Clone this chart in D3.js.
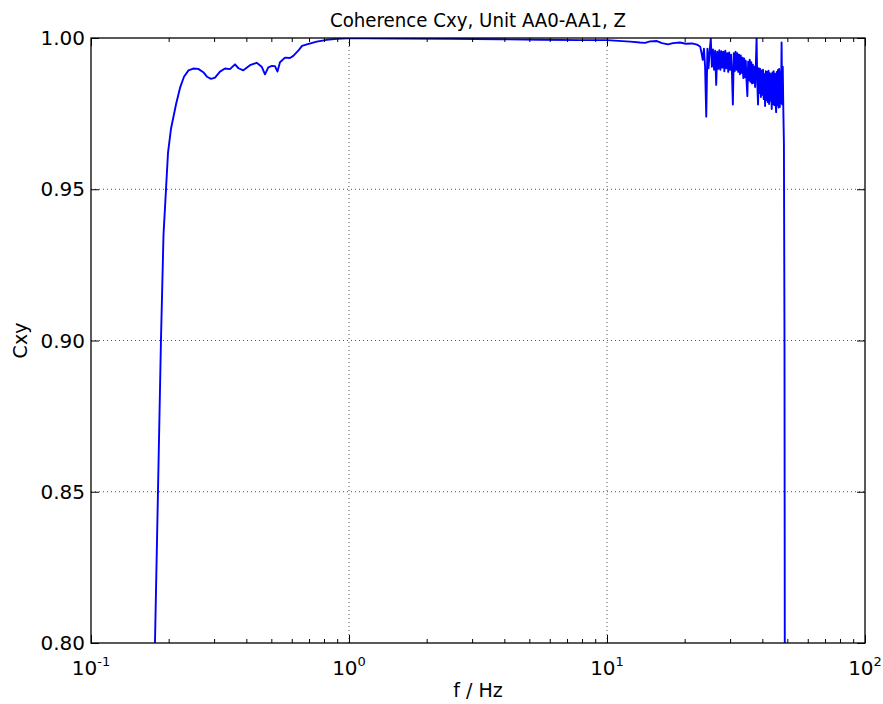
<!DOCTYPE html>
<html>
<head>
<meta charset="utf-8">
<script src="https://cdn.jsdelivr.net/npm/d3@7"></script>
<style>
  html, body { margin: 0; padding: 0; background: #fff; }
  svg { display: block; font-family: "DejaVu Sans", sans-serif; }
</style>
</head>
<body>
<svg id="chart" width="883" height="704"></svg>
<script>
// Coherence between units AA0 and AA1 (Z component), frequency in Hz.
// Low band: smooth part of the spectrum up to ~23 Hz.
const lowFreq = [0.1754, 0.1770, 0.1818, 0.1867, 0.1910, 0.1953, 0.1988, 0.2042, 0.2135, 0.2213,
  0.2293, 0.2387, 0.2491, 0.2605, 0.2724, 0.2815, 0.2919, 0.3025, 0.3162, 0.3306,
  0.3457, 0.3615, 0.3730, 0.3894, 0.4134, 0.4387, 0.4587, 0.4725, 0.4866, 0.5028,
  0.5165, 0.5282, 0.5401, 0.5648, 0.5906, 0.6082, 0.6360, 0.6573, 0.6874, 0.7493,
  0.8197, 0.8961, 0.9822, 1.153, 1.577, 2.464, 3.849, 5.500, 7.860, 10.0,
  12.28, 13.42, 14.04, 14.68, 15.62, 16.34, 17.24, 18.03, 19.18, 20.24,
  21.35, 22.33, 22.94];
const lowCxy = [0.770, 0.800, 0.850, 0.900, 0.935, 0.950, 0.962, 0.970, 0.978, 0.9835,
  0.9872, 0.9893, 0.9899, 0.9898, 0.9887, 0.9872, 0.9865, 0.9869, 0.9889, 0.9899,
  0.9897, 0.9913, 0.9900, 0.9893, 0.9910, 0.9918, 0.9905, 0.9880, 0.9903, 0.9908,
  0.9907, 0.9889, 0.9920, 0.9935, 0.9934, 0.9941, 0.9958, 0.9974, 0.9979, 0.9988,
  0.9994, 0.9997, 0.9999, 0.9999, 0.9998, 0.9997, 0.9996, 0.9994, 0.9993, 0.9993,
  0.9988, 0.9985, 0.9984, 0.9989, 0.9990, 0.9983, 0.9979, 0.9983, 0.9985, 0.9981,
  0.9982, 0.9978, 0.9972];

// High band: noisy part, 0.25 Hz bins from 23 Hz up to the cut-off near 49 Hz.
const highFreq = [23.00, 23.25, 23.50, 23.75, 24.00, 24.25, 24.50, 24.75, 25.00, 25.25,
  25.50, 25.75, 26.00, 26.25, 26.50, 26.75, 27.00, 27.25, 27.50, 27.75,
  28.00, 28.25, 28.50, 28.75, 29.00, 29.25, 29.50, 29.75, 30.00, 30.25,
  30.50, 30.75, 31.00, 31.25, 31.50, 31.75, 32.00, 32.25, 32.50, 32.75,
  33.00, 33.25, 33.50, 33.75, 34.00, 34.25, 34.50, 34.75, 35.00, 35.25,
  35.50, 35.75, 36.00, 36.25, 36.50, 36.75, 37.00, 37.25, 37.50, 37.75,
  38.00, 38.25, 38.50, 38.75, 39.00, 39.25, 39.50, 39.75, 40.00, 40.25,
  40.50, 40.75, 41.00, 41.25, 41.50, 41.75, 42.00, 42.25, 42.50, 42.75,
  43.00, 43.25, 43.50, 43.75, 44.00, 44.25, 44.50, 44.75, 45.00, 45.25,
  45.50, 45.75, 46.00, 46.25, 46.50, 46.75, 47.00, 47.25, 47.50, 47.75,
  48.00, 48.25, 48.50, 48.75, 49.00];
const highCxy = [0.9970, 0.9950, 0.9928, 0.9965, 0.9905, 0.9740, 0.9965, 0.9900, 0.9958, 0.9998,
  0.9905, 0.9962, 0.9895, 0.9958, 0.9845, 0.9955, 0.9898, 0.9960, 0.9895, 0.9956,
  0.9902, 0.9955, 0.9890, 0.9958, 0.9900, 0.9950, 0.9888, 0.9952, 0.9895, 0.9945,
  0.9885, 0.9780, 0.9950, 0.9890, 0.9955, 0.9895, 0.9950, 0.9888, 0.9945, 0.9880,
  0.9942, 0.9885, 0.9935, 0.9868, 0.9932, 0.9870, 0.9925, 0.9858, 0.9808, 0.9922,
  0.9860, 0.9928, 0.9855, 0.9920, 0.9850, 0.9912, 0.9852, 0.9905, 0.9838, 0.9910,
  0.9999, 0.9848, 0.9780, 0.9900, 0.9818, 0.9898, 0.9805, 0.9892, 0.9812, 0.9895,
  0.9798, 0.9880, 0.9775, 0.9890, 0.9795, 0.9888, 0.9788, 0.9892, 0.9782, 0.9884,
  0.9792, 0.9880, 0.9765, 0.9886, 0.9782, 0.9890, 0.9778, 0.9882, 0.9788, 0.9755,
  0.9888, 0.9778, 0.9894, 0.9770, 0.9898, 0.9772, 0.9888, 0.9785, 0.9985, 0.9780,
  0.9905, 0.9760, 0.9650, 0.9000, 0.7000];

const xMajorTicks = [0.1, 1, 10, 100];
const xTickExponents = ["-1", "0", "1", "2"];
const xMinorTicks = [0.2, 0.3, 0.4, 0.5, 0.6, 0.7, 0.8, 0.9, 2, 3, 4, 5, 6, 7, 8, 9,
  20, 30, 40, 50, 60, 70, 80, 90];
const yTicks = [0.80, 0.85, 0.90, 0.95, 1.00];

const titleText = "Coherence Cxy, Unit AA0-AA1, Z";
const xLabelText = "f / Hz";
const yLabelText = "Cxy";

const margin = { left: 91, right: 18, top: 38, bottom: 61 };
const W = 883, H = 704;
const iw = W - margin.left - margin.right;
const ih = H - margin.top - margin.bottom;

const svg = d3.select("#chart");
const g = svg.append("g").attr("transform", `translate(${margin.left},${margin.top})`);

const x = d3.scaleLog().domain([0.1, 100]).range([0, iw]);
const y = d3.scaleLinear().domain([0.8, 1.0]).range([ih, 0]);

// dotted grid at interior major ticks
g.append("g").selectAll("line").data(xMajorTicks.slice(1, -1)).join("line")
  .attr("x1", d => x(d)).attr("x2", d => x(d)).attr("y1", 0).attr("y2", ih)
  .attr("stroke", "#222").attr("stroke-width", 0.8).attr("stroke-dasharray", "1,3");
g.append("g").selectAll("line").data(yTicks.slice(1, -1)).join("line")
  .attr("x1", 0).attr("x2", iw).attr("y1", d => y(d)).attr("y2", d => y(d))
  .attr("stroke", "#222").attr("stroke-width", 0.8).attr("stroke-dasharray", "1,3");

// coherence curve, clipped to the axes box
svg.append("defs").append("clipPath").attr("id", "plotClip")
  .append("rect").attr("width", iw).attr("height", ih);

const points = lowFreq.map((f, i) => [f, lowCxy[i]])
  .concat(highFreq.map((f, i) => [f, highCxy[i]]));

const line = d3.line().x(d => x(d[0])).y(d => y(d[1]));
g.append("path")
  .attr("clip-path", "url(#plotClip)")
  .attr("d", line(points))
  .attr("fill", "none")
  .attr("stroke", "#0000ff")
  .attr("stroke-width", 1.9)
  .attr("stroke-linejoin", "round");

// ticks pointing inward on all four sides
function styleAxis(sel) {
  sel.select(".domain").remove();
  sel.selectAll("line").attr("stroke", "#000").attr("stroke-width", 1);
}
g.append("g").attr("transform", `translate(0,${ih})`)
  .call(d3.axisBottom(x).tickValues(xMajorTicks).tickSize(-8).tickFormat(""))
  .call(styleAxis);
g.append("g").attr("transform", `translate(0,${ih})`)
  .call(d3.axisBottom(x).tickValues(xMinorTicks).tickSize(-4).tickFormat(""))
  .call(styleAxis);
g.append("g")
  .call(d3.axisTop(x).tickValues(xMajorTicks).tickSize(-8).tickFormat(""))
  .call(styleAxis);
g.append("g")
  .call(d3.axisTop(x).tickValues(xMinorTicks).tickSize(-4).tickFormat(""))
  .call(styleAxis);
g.append("g")
  .call(d3.axisLeft(y).tickValues(yTicks).tickSize(-8).tickFormat(""))
  .call(styleAxis);
g.append("g").attr("transform", `translate(${iw},0)`)
  .call(d3.axisRight(y).tickValues(yTicks).tickSize(-8).tickFormat(""))
  .call(styleAxis);

// axes frame
g.append("rect").attr("width", iw).attr("height", ih)
  .attr("fill", "none").attr("stroke", "#000").attr("stroke-width", 1.3);

// y tick labels
g.append("g").selectAll("text").data(yTicks).join("text")
  .attr("x", -6).attr("y", d => y(d)).attr("dy", "0.36em")
  .attr("text-anchor", "end").attr("font-size", 20).attr("fill", "#000")
  .text(d => d3.format(".2f")(d));

// x tick labels as powers of ten
const xl = g.append("g").selectAll("text").data(xMajorTicks).join("text")
  .attr("x", d => x(d)).attr("y", ih + 32)
  .attr("text-anchor", "middle").attr("font-size", 20).attr("fill", "#000");
xl.append("tspan").text("10");
xl.append("tspan").attr("dy", -9).attr("font-size", 13).text((d, i) => xTickExponents[i]);

// title and axis labels
svg.append("text").attr("x", margin.left + iw / 2).attr("y", 27)
  .attr("text-anchor", "middle").attr("font-size", 20).attr("fill", "#000")
  .attr("textLength", 296).attr("lengthAdjust", "spacingAndGlyphs")
  .text(titleText);
svg.append("text").attr("x", margin.left + iw / 2).attr("y", 697)
  .attr("text-anchor", "middle").attr("font-size", 19).attr("fill", "#000")
  .text(xLabelText);
svg.append("text")
  .attr("transform", `translate(27,${margin.top + ih / 2}) rotate(-90)`)
  .attr("text-anchor", "middle").attr("font-size", 19).attr("fill", "#000")
  .text(yLabelText);
</script>
</body>
</html>
